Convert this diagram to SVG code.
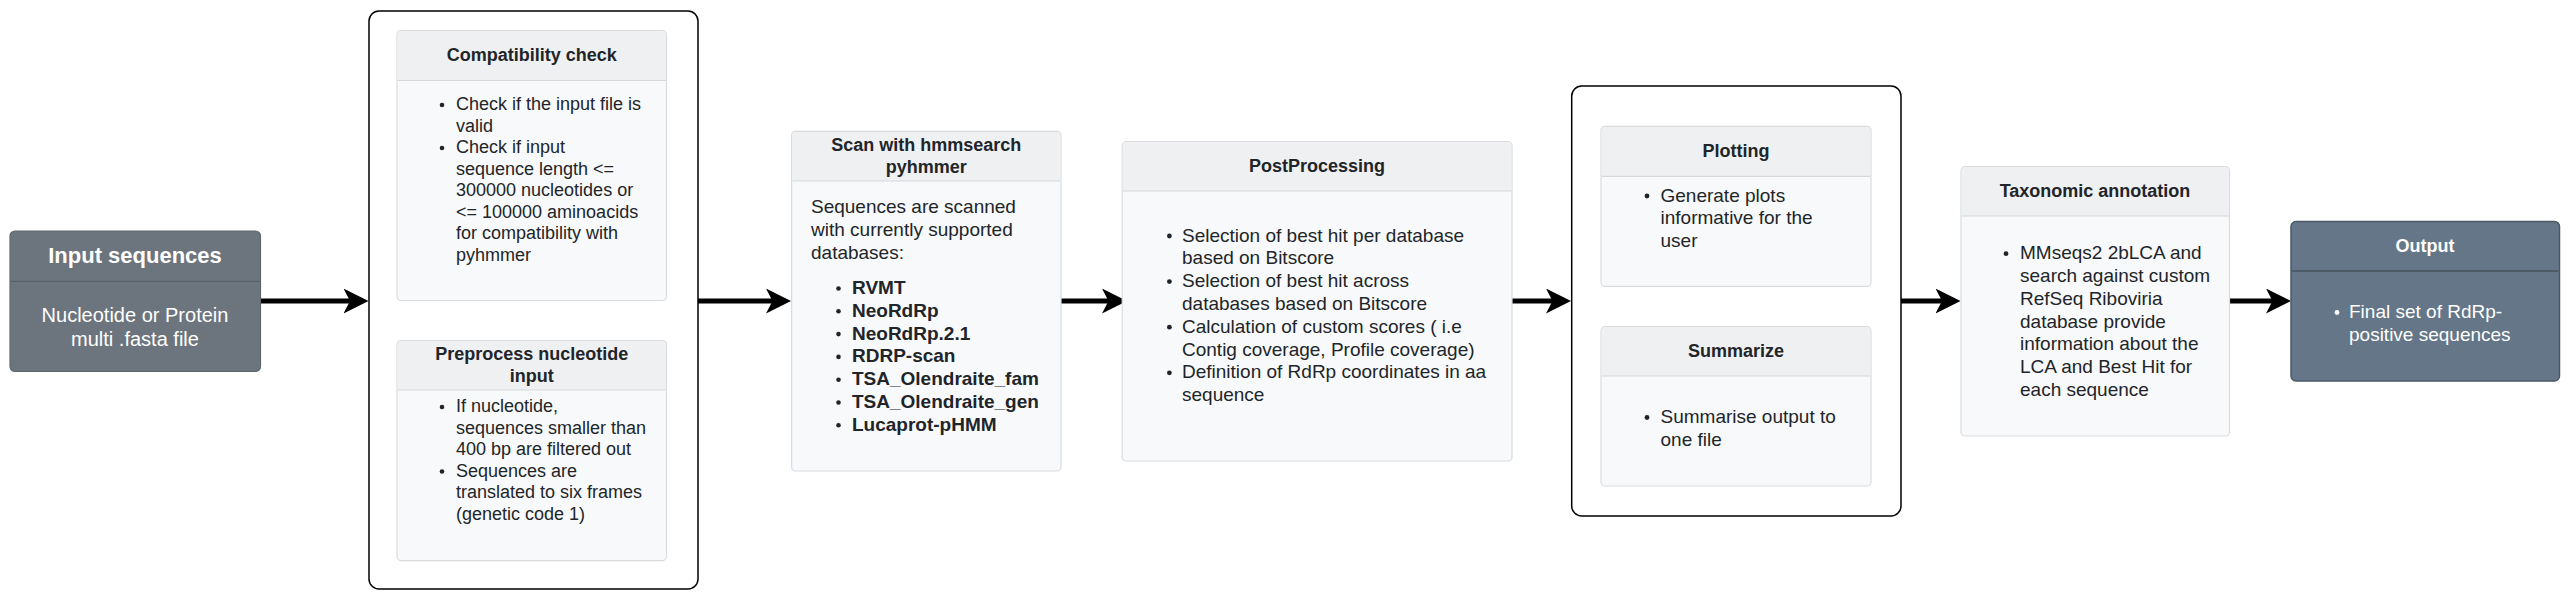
<svg xmlns="http://www.w3.org/2000/svg" width="2571" height="611" viewBox="0 0 2571 611">
<style>
  text { font-family: "Liberation Sans", Arial, Helvetica, sans-serif; }
  .container { fill: #ffffff; stroke: #000000; stroke-width: 1.5; }
  .lbox { fill: #f8f9fa; stroke: #d9dcdf; stroke-width: 1.2; }
  .lhead { fill: #eff0f2; }
  .ldiv { stroke: #d6d9dc; stroke-width: 1.2; }
  .ltitle { font-size: 18px; font-weight: bold; fill: #212529; text-anchor: middle; }
  .ltext { font-size: 19px; fill: #212529; }
  .ltext18 { font-size: 18px; fill: #212529; }
  .btext { font-size: 19px; font-weight: bold; fill: #212529; }
  .dot { fill: #212529; }
  .wdot { fill: #ffffff; }
  .gray { fill: #6c757d; stroke: #5f676e; stroke-width: 1.2; }
  .graydiv { stroke: #596067; stroke-width: 1.2; }
  .slate { fill: #647687; stroke: #4b5866; stroke-width: 1.5; }
  .slatediv { stroke: #46525e; stroke-width: 1.5; }
  .wtitle { font-weight: bold; fill: #ffffff; text-anchor: middle; }
  .wtext { fill: #ffffff; }
  .edge { stroke: #000000; stroke-width: 5; fill: none; marker-end: url(#arrow); }
</style>
<defs>
  <marker id="arrow" viewBox="0 0 25 25" refX="10" refY="12.5" markerWidth="25" markerHeight="25" markerUnits="userSpaceOnUse" orient="auto">
    <path d="M0,0 L25,12.5 L0,25 L6.5,12.5 Z" fill="#000000"/>
  </marker>
</defs>

<g id="connectors">
  <line class="edge" x1="260" y1="301" x2="353.5" y2="301"/>
  <line class="edge" x1="698" y1="301" x2="776" y2="301"/>
  <line class="edge" x1="1061" y1="301" x2="1112" y2="301"/>
  <line class="edge" x1="1512" y1="301" x2="1556" y2="301"/>
  <line class="edge" x1="1901" y1="301" x2="1945.5" y2="301"/>
  <line class="edge" x1="2229.5" y1="301" x2="2276" y2="301"/>
</g>

<g id="input-sequences">
  <rect class="gray" x="10" y="231" width="250.5" height="140.5" rx="5"/>
  <line class="graydiv" x1="10.6" y1="281.3" x2="259.9" y2="281.3"/>
  <text class="wtitle" x="135" y="263" font-size="22">Input sequences</text>
  <text class="wtext" font-size="20" text-anchor="middle"><tspan x="135" y="322">Nucleotide or Protein</tspan><tspan x="135" y="345.5">multi .fasta file</tspan></text>
</g>

<g id="group-check">
  <rect class="container" x="369" y="11" width="329" height="578" rx="10"/>
</g>

<g id="compatibility-check">
  <rect class="lbox" x="397" y="30.5" width="269.5" height="270" rx="4"/>
  <path class="lhead" d="M401,31.1 H662.5 A3.4,3.4 0 0 1 665.9,34.5 V80.5 H397.6 V34.5 A3.4,3.4 0 0 1 401,31.1 Z"/>
  <line class="ldiv" x1="397.6" y1="80.5" x2="665.9" y2="80.5"/>
  <text class="ltitle" x="531.7" y="61">Compatibility check</text>
  <circle class="dot" cx="442" cy="105" r="2.3"/>
  <circle class="dot" cx="442" cy="148" r="2.3"/>
  <text class="ltext18"><tspan x="456" y="110">Check if the input file is</tspan><tspan x="456" y="131.5">valid</tspan><tspan x="456" y="153">Check if input</tspan><tspan x="456" y="174.5">sequence length &lt;=</tspan><tspan x="456" y="196">300000 nucleotides or</tspan><tspan x="456" y="217.5">&lt;= 100000 aminoacids</tspan><tspan x="456" y="239">for compatibility with</tspan><tspan x="456" y="260.5">pyhmmer</tspan></text>
</g>

<g id="preprocess-nucleotide-input">
  <rect class="lbox" x="397" y="340.6" width="269.5" height="220" rx="4"/>
  <path class="lhead" d="M401,341.2 H662.5 A3.4,3.4 0 0 1 665.9,344.6 V390 H397.6 V344.6 A3.4,3.4 0 0 1 401,341.2 Z"/>
  <line class="ldiv" x1="397.6" y1="390" x2="665.9" y2="390"/>
  <text class="ltitle"><tspan x="531.7" y="360">Preprocess nucleotide</tspan><tspan x="531.7" y="381.6">input</tspan></text>
  <circle class="dot" cx="442" cy="407" r="2.3"/>
  <circle class="dot" cx="442" cy="471.5" r="2.3"/>
  <text class="ltext18"><tspan x="456" y="412">If nucleotide,</tspan><tspan x="456" y="433.5">sequences smaller than</tspan><tspan x="456" y="455">400 bp are filtered out</tspan><tspan x="456" y="476.5">Sequences are</tspan><tspan x="456" y="498">translated to six frames</tspan><tspan x="456" y="519.5">(genetic code 1)</tspan></text>
</g>

<g id="scan-hmmsearch">
  <rect class="lbox" x="791.6" y="131.3" width="269.4" height="339.7" rx="4"/>
  <path class="lhead" d="M795.6,131.9 H1057 A3.4,3.4 0 0 1 1060.4,135.3 V181 H792.2 V135.3 A3.4,3.4 0 0 1 795.6,131.9 Z"/>
  <line class="ldiv" x1="792.2" y1="181" x2="1060.4" y2="181"/>
  <text class="ltitle"><tspan x="926.3" y="151">Scan with hmmsearch</tspan><tspan x="926.3" y="172.7">pyhmmer</tspan></text>
  <text class="ltext"><tspan x="811" y="212.5">Sequences are scanned</tspan><tspan x="811" y="235.5">with currently supported</tspan><tspan x="811" y="258.5">databases:</tspan></text>
  <circle class="dot" cx="838.5" cy="288.5" r="2.3"/>
  <circle class="dot" cx="838.5" cy="311.3" r="2.3"/>
  <circle class="dot" cx="838.5" cy="334.1" r="2.3"/>
  <circle class="dot" cx="838.5" cy="356.9" r="2.3"/>
  <circle class="dot" cx="838.5" cy="379.7" r="2.3"/>
  <circle class="dot" cx="838.5" cy="402.5" r="2.3"/>
  <circle class="dot" cx="838.5" cy="425.3" r="2.3"/>
  <text class="btext"><tspan x="852" y="294">RVMT</tspan><tspan x="852" y="316.8">NeoRdRp</tspan><tspan x="852" y="339.6">NeoRdRp.2.1</tspan><tspan x="852" y="362.4">RDRP-scan</tspan><tspan x="852" y="385.2">TSA_Olendraite_fam</tspan><tspan x="852" y="408">TSA_Olendraite_gen</tspan><tspan x="852" y="430.8">Lucaprot-pHMM</tspan></text>
</g>

<g id="postprocessing">
  <rect class="lbox" x="1122.2" y="141.7" width="389.8" height="319.3" rx="4"/>
  <path class="lhead" d="M1126.2,142.3 H1508 A3.4,3.4 0 0 1 1511.4,145.7 V191 H1122.8 V145.7 A3.4,3.4 0 0 1 1126.2,142.3 Z"/>
  <line class="ldiv" x1="1122.8" y1="191" x2="1511.4" y2="191"/>
  <text class="ltitle" x="1317" y="172">PostProcessing</text>
  <circle class="dot" cx="1169.4" cy="236" r="2.4"/>
  <circle class="dot" cx="1169.4" cy="281.6" r="2.4"/>
  <circle class="dot" cx="1169.4" cy="327.2" r="2.4"/>
  <circle class="dot" cx="1169.4" cy="372.8" r="2.4"/>
  <text class="ltext"><tspan x="1182" y="241.5">Selection of best hit per database</tspan><tspan x="1182" y="264.3">based on Bitscore</tspan><tspan x="1182" y="287.1">Selection of best hit across</tspan><tspan x="1182" y="309.9">databases based on Bitscore</tspan><tspan x="1182" y="332.7">Calculation of custom scores ( i.e</tspan><tspan x="1182" y="355.5">Contig coverage, Profile coverage)</tspan><tspan x="1182" y="378.3">Definition of RdRp coordinates in aa</tspan><tspan x="1182" y="401.1">sequence</tspan></text>
</g>

<g id="group-report">
  <rect class="container" x="1571.7" y="86" width="329.3" height="430" rx="10"/>
</g>

<g id="plotting">
  <rect class="lbox" x="1601" y="126.3" width="270" height="160" rx="4"/>
  <path class="lhead" d="M1605,126.9 H1867 A3.4,3.4 0 0 1 1870.4,130.3 V176.3 H1601.6 V130.3 A3.4,3.4 0 0 1 1605,126.9 Z"/>
  <line class="ldiv" x1="1601.6" y1="176.3" x2="1870.4" y2="176.3"/>
  <text class="ltitle" x="1736" y="157">Plotting</text>
  <circle class="dot" cx="1647" cy="196" r="2.4"/>
  <text class="ltext"><tspan x="1660.5" y="201.5">Generate plots</tspan><tspan x="1660.5" y="224.3">informative for the</tspan><tspan x="1660.5" y="247.1">user</tspan></text>
</g>

<g id="summarize">
  <rect class="lbox" x="1601" y="326.7" width="270" height="159.3" rx="4"/>
  <path class="lhead" d="M1605,327.3 H1867 A3.4,3.4 0 0 1 1870.4,330.7 V376 H1601.6 V330.7 A3.4,3.4 0 0 1 1605,327.3 Z"/>
  <line class="ldiv" x1="1601.6" y1="376" x2="1870.4" y2="376"/>
  <text class="ltitle" x="1736" y="357">Summarize</text>
  <circle class="dot" cx="1647" cy="417.5" r="2.4"/>
  <text class="ltext"><tspan x="1660.5" y="423">Summarise output to</tspan><tspan x="1660.5" y="445.8">one file</tspan></text>
</g>

<g id="taxonomic-annotation">
  <rect class="lbox" x="1961" y="166.7" width="268.5" height="269.3" rx="4"/>
  <path class="lhead" d="M1965,167.3 H2225.5 A3.4,3.4 0 0 1 2228.9,170.7 V216 H1961.6 V170.7 A3.4,3.4 0 0 1 1965,167.3 Z"/>
  <line class="ldiv" x1="1961.6" y1="216" x2="2228.9" y2="216"/>
  <text class="ltitle" x="2095" y="197">Taxonomic annotation</text>
  <circle class="dot" cx="2006" cy="253.7" r="2.4"/>
  <text class="ltext"><tspan x="2020" y="259.2">MMseqs2 2bLCA and</tspan><tspan x="2020" y="282">search against custom</tspan><tspan x="2020" y="304.8">RefSeq Riboviria</tspan><tspan x="2020" y="327.6">database provide</tspan><tspan x="2020" y="350.4">information about the</tspan><tspan x="2020" y="373.2">LCA and Best Hit for</tspan><tspan x="2020" y="396">each sequence</tspan></text>
</g>

<g id="output">
  <rect class="slate" x="2291" y="221.5" width="268.5" height="159.5" rx="5"/>
  <line class="slatediv" x1="2291.8" y1="271" x2="2558.7" y2="271"/>
  <text class="wtitle" x="2425" y="251.7" font-size="18">Output</text>
  <circle class="wdot" cx="2337" cy="312.5" r="2.4"/>
  <text class="wtext" font-size="19"><tspan x="2349" y="318">Final set of RdRp-</tspan><tspan x="2349" y="340.8">positive sequences</tspan></text>
</g>
</svg>
